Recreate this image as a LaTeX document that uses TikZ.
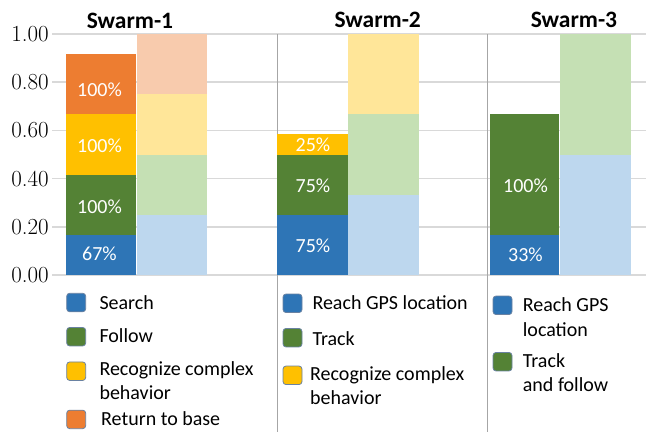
\documentclass[tikz,border=0pt]{standalone}
\usepackage{fontspec}
\newfontfamily\carl{Carlito}
\definecolor{blueD}{HTML}{2E75B6}
\definecolor{greenD}{HTML}{548235}
\definecolor{yellowD}{HTML}{FFC000}
\definecolor{orangeD}{HTML}{ED7D31}
\definecolor{blueL}{HTML}{BDD7EE}
\definecolor{greenL}{HTML}{C5E0B4}
\definecolor{yellowL}{HTML}{FFE699}
\definecolor{orangeL}{HTML}{F8CBAD}
\definecolor{gridgray}{HTML}{D9D9D9}
\definecolor{sepgray}{HTML}{A6A6A6}
\definecolor{lgborder}{HTML}{6A82A2}
\begin{document}
\begin{tikzpicture}[x=1pt,y=-1pt,
  gridline/.style={draw=gridgray, line width=1.6pt},
  sepline/.style={draw=sepgray, line width=0.9pt},
  pct/.style={text=white, font=\carl\fontsize{20}{22}\selectfont, inner sep=0pt},
  ttl/.style={font=\carl\bfseries\fontsize{23.5}{26}\selectfont, inner sep=0pt},
  tick/.style={font=\fontsize{23}{25}\selectfont, anchor=east, inner sep=0pt},
  lgsq/.style={draw=lgborder, line width=0.8pt, rectangle, rounded corners=3pt,
    minimum width=19pt, minimum height=18.5pt, inner sep=0pt, outer sep=0pt},
  lgtx/.style={font=\carl\fontsize{20}{23.4}\selectfont, anchor=base west, align=left, inner sep=0pt},
]
\useasboundingbox (0,0) rectangle (646,432);
% grid
\foreach \yy in {34,82.2,130.4,178.6,226.8,275}
  \draw[gridline] (52,\yy) -- (646,\yy);
% separators
\draw[sepline] (277.3,34) -- (277.3,432);
\draw[sepline] (487.5,34) -- (487.5,432);
% ticks
\node[tick] (t100) at (49,34) {1.00};
\node[tick] (t080) at (49,82.2) {0.80};
\node[tick] (t060) at (49,130.4) {0.60};
\node[tick] (t040) at (49,178.6) {0.40};
\node[tick] (t020) at (49,226.8) {0.20};
\node[tick] (t000) at (49,275) {0.00};
% titles
\node[ttl] (s1) at (130,20.8) {Swarm-1};
\node[ttl] (s2) at (377.7,20.3) {Swarm-2};
\node[ttl] (s3) at (574,20.3) {Swarm-3};
% Swarm-1 bars
\fill[blueD]   (66,275)   rectangle (136,234.8);
\fill[greenD]  (66,234.8) rectangle (136,174.6);
\fill[yellowD] (66,174.6) rectangle (136,114.3);
\fill[orangeD] (66,114.3) rectangle (136,54.1);
\fill[blueL]   (137,275)    rectangle (207,214.75);
\fill[greenL]  (137,214.75) rectangle (207,154.5);
\fill[yellowL] (137,154.5)  rectangle (207,94.25);
\fill[orangeL] (137,94.25)  rectangle (207,34);
% Swarm-2 bars
\fill[blueD]   (277.3,275)    rectangle (347.7,214.75);
\fill[greenD]  (277.3,214.75) rectangle (347.7,154.5);
\fill[yellowD] (277.3,154.5)  rectangle (347.7,134.4);
\fill[blueL]   (348.3,275)   rectangle (418.7,194.7);
\fill[greenL]  (348.3,194.7) rectangle (418.7,114.3);
\fill[yellowL] (348.3,114.3) rectangle (418.7,34);
% Swarm-3 bars
\fill[blueD]   (489.7,275)   rectangle (559,234.8);
\fill[greenD]  (489.7,234.8) rectangle (559,114.3);
\fill[blueL]   (560,275)   rectangle (631,154.5);
\fill[greenL]  (560,154.5) rectangle (631,34);
% percent labels
\node[pct] (p1o) at (99.5,89.5) {100\%};
\node[pct] (p1y) at (99.5,145.7) {100\%};
\node[pct] (p1g) at (99.5,207) {100\%};
\node[pct] (p1b) at (99.5,254) {67\%};
\node[pct] (p2y) at (313,145) {25\%};
\node[pct] (p2g) at (313,185.7) {75\%};
\node[pct] (p2b) at (313,246) {75\%};
\node[pct] (p3g) at (525.5,185.7) {100\%};
\node[pct] (p3b) at (525.5,255) {33\%};
% legend Swarm-1
\node[lgsq, fill=blueD]   (k1a) at (76.2,302.5) {};
\node[lgsq, fill=greenD]  (k1b) at (76.2,336.7) {};
\node[lgsq, fill=yellowD] (k1c) at (76.2,371.2) {};
\node[lgsq, fill=orangeD] (k1d) at (76.2,419.4) {};
\node[lgtx] (l1a) at (99.3,309.3) {Search};
\node[lgtx] (l1b) at (99.3,342.7) {Follow};
\node[lgtx] (l1c) at (99.3,399) {Recognize complex\\behavior};
\node[lgtx] (l1d) at (101,425.7) {Return to base};
% legend Swarm-2
\node[lgsq, fill=blueD]   (k2a) at (292.5,303.3) {};
\node[lgsq, fill=greenD]  (k2b) at (292.5,337.7) {};
\node[lgsq, fill=yellowD] (k2c) at (292.5,375.3) {};
\node[lgtx] (l2a) at (312.3,309.3) {Reach GPS location};
\node[lgtx] (l2b) at (312.3,345) {Track};
\node[lgtx] (l2c) at (310,404.3) {Recognize complex\\behavior};
% legend Swarm-3
\node[lgsq, fill=blueD]   (k3a) at (502.5,305.3) {};
\node[lgsq, fill=greenD]  (k3b) at (502.5,361.7) {};
\node[lgtx, font=\carl\fontsize{20}{24.3}\selectfont] (l3a) at (522.7,336) {Reach GPS\\location};
\node[lgtx, font=\carl\fontsize{20}{24}\selectfont] (l3b) at (522.7,391.7) {Track\\and follow};
\end{tikzpicture}
\end{document}
